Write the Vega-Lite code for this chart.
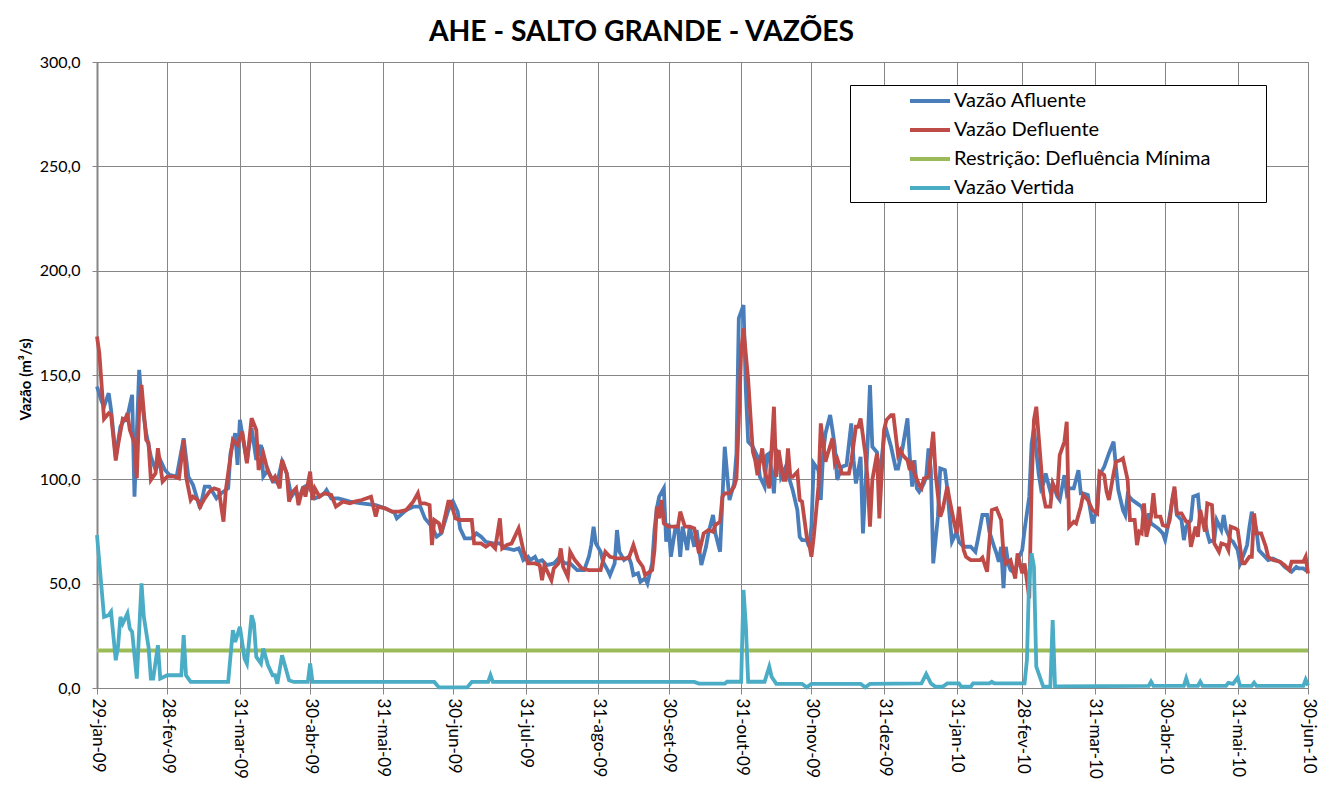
{
"$schema": "https://vega.github.io/schema/vega-lite/v6.json",
"width": 1211, "height": 626,
"autosize": {"type": "none"},
"padding": {"left": 97, "top": 62, "right": 26, "bottom": 108},
"background": "white",
"title": {"text": "AHE - SALTO GRANDE - VAZÕES", "font": "Lato", "fontSize": 28.3, "fontWeight": "bold", "color": "black", "anchor": "middle", "dx": -61, "dy": 34, "offset": 19, "baseline": "alphabetic"},
"datasets": {
"afl": [
{"d":"2009-01-29","v":144.5},{"d":"2009-01-31","v":137.3},{"d":"2009-02-01","v":134.9},{"d":"2009-02-03","v":141.3},{"d":"2009-02-04","v":133.3},{"d":"2009-02-06","v":110.9},{"d":"2009-02-08","v":125.3},{"d":"2009-02-10","v":129.3},{"d":"2009-02-11","v":130.1},{"d":"2009-02-13","v":140.5},{"d":"2009-02-14","v":91.7},{"d":"2009-02-16","v":152.5},{"d":"2009-02-17","v":138.1},{"d":"2009-02-19","v":122.1},{"d":"2009-02-21","v":110.9},{"d":"2009-02-23","v":104.5},{"d":"2009-02-25","v":109.3},{"d":"2009-02-27","v":104.5},
{"d":"2009-03-01","v":102.1},{"d":"2009-03-04","v":101.3},{"d":"2009-03-07","v":119.7},{"d":"2009-03-09","v":101.3},{"d":"2009-03-11","v":97.3},{"d":"2009-03-14","v":86.1},{"d":"2009-03-16","v":96.5},{"d":"2009-03-18","v":96.5},{"d":"2009-03-21","v":90.9},{"d":"2009-03-23","v":93.3},{"d":"2009-03-26","v":95.7},{"d":"2009-03-27","v":112.5},{"d":"2009-03-29","v":122.1},{"d":"2009-03-30","v":106.9},{"d":"2009-03-31","v":128.5},
{"d":"2009-04-02","v":114.9},{"d":"2009-04-03","v":108.5},{"d":"2009-04-05","v":124.5},{"d":"2009-04-07","v":109.3},{"d":"2009-04-09","v":116.5},{"d":"2009-04-10","v":101.3},{"d":"2009-04-12","v":104.5},{"d":"2009-04-14","v":98.9},{"d":"2009-04-16","v":98.9},{"d":"2009-04-18","v":108.5},{"d":"2009-04-20","v":102.9},{"d":"2009-04-22","v":91.7},{"d":"2009-04-24","v":94.9},{"d":"2009-04-25","v":90.1},{"d":"2009-04-27","v":96},{"d":"2009-04-29","v":97.3},
{"d":"2009-05-02","v":90.9},{"d":"2009-05-04","v":91.7},{"d":"2009-05-06","v":93.3},{"d":"2009-05-07","v":94.9},{"d":"2009-05-09","v":90.9},{"d":"2009-05-12","v":90.9},{"d":"2009-05-17","v":89.3},{"d":"2009-05-22","v":88.5},{"d":"2009-05-28","v":87.7},
{"d":"2009-06-01","v":86.1},{"d":"2009-06-05","v":84},{"d":"2009-06-06","v":81.3},{"d":"2009-06-10","v":85.3},{"d":"2009-06-13","v":86.9},{"d":"2009-06-16","v":86.9},{"d":"2009-06-18","v":81.3},{"d":"2009-06-21","v":77.3},{"d":"2009-06-23","v":72.5},{"d":"2009-06-25","v":74.1},{"d":"2009-06-28","v":85.3},{"d":"2009-06-30","v":89.3},
{"d":"2009-07-02","v":84.5},{"d":"2009-07-03","v":76.5},{"d":"2009-07-05","v":71.7},{"d":"2009-07-08","v":71.7},{"d":"2009-07-10","v":74.1},{"d":"2009-07-12","v":72.5},{"d":"2009-07-14","v":70.1},{"d":"2009-07-17","v":69.3},{"d":"2009-07-20","v":69.3},{"d":"2009-07-22","v":67},{"d":"2009-07-23","v":66.9},{"d":"2009-07-26","v":66.1},{"d":"2009-07-28","v":66.9},{"d":"2009-07-29","v":64.5},{"d":"2009-07-30","v":61.3},
{"d":"2009-08-01","v":62.9},{"d":"2009-08-02","v":61.3},{"d":"2009-08-04","v":62.9},{"d":"2009-08-05","v":60.5},{"d":"2009-08-07","v":61.3},{"d":"2009-08-09","v":58.9},{"d":"2009-08-12","v":59.7},{"d":"2009-08-14","v":62.1},{"d":"2009-08-17","v":59.7},{"d":"2009-08-19","v":59.7},{"d":"2009-08-22","v":56.5},{"d":"2009-08-25","v":56.5},{"d":"2009-08-27","v":62.9},{"d":"2009-08-28","v":68.5},{"d":"2009-08-29","v":77.3},{"d":"2009-08-30","v":69.3},
{"d":"2009-09-01","v":65.3},{"d":"2009-09-02","v":60.5},{"d":"2009-09-04","v":56.5},{"d":"2009-09-05","v":54.1},{"d":"2009-09-07","v":59.7},{"d":"2009-09-08","v":75.7},{"d":"2009-09-09","v":65.3},{"d":"2009-09-11","v":61.3},{"d":"2009-09-13","v":62.9},{"d":"2009-09-14","v":59.7},{"d":"2009-09-15","v":54.1},{"d":"2009-09-17","v":55},{"d":"2009-09-18","v":50.9},{"d":"2009-09-20","v":52.5},{"d":"2009-09-21","v":50.1},{"d":"2009-09-23","v":59.7},{"d":"2009-09-24","v":75.7},{"d":"2009-09-25","v":86.1},{"d":"2009-09-26","v":91.7},{"d":"2009-09-28","v":95.7},{"d":"2009-09-29","v":70.1},{"d":"2009-09-30","v":78.9},
{"d":"2009-10-01","v":62.9},{"d":"2009-10-03","v":77.3},{"d":"2009-10-04","v":77.3},{"d":"2009-10-05","v":62.9},{"d":"2009-10-06","v":77.3},{"d":"2009-10-08","v":66.1},{"d":"2009-10-09","v":77.3},{"d":"2009-10-11","v":67.7},{"d":"2009-10-12","v":75.7},{"d":"2009-10-14","v":58.9},{"d":"2009-10-16","v":67.7},{"d":"2009-10-17","v":74.1},{"d":"2009-10-19","v":82.9},{"d":"2009-10-20","v":74.1},{"d":"2009-10-22","v":65.3},{"d":"2009-10-24","v":115.6},{"d":"2009-10-25","v":102.8},{"d":"2009-10-26","v":90.1},{"d":"2009-10-28","v":98},{"d":"2009-10-29","v":112.4},{"d":"2009-10-30","v":177.1},
{"d":"2009-11-01","v":183.5},{"d":"2009-11-02","v":142.8},{"d":"2009-11-03","v":118},{"d":"2009-11-05","v":115.6},{"d":"2009-11-07","v":110.8},{"d":"2009-11-08","v":101.2},{"d":"2009-11-10","v":96.5},{"d":"2009-11-11","v":111.6},{"d":"2009-11-12","v":112.4},{"d":"2009-11-14","v":93.3},{"d":"2009-11-15","v":114},{"d":"2009-11-16","v":112.4},{"d":"2009-11-17","v":101.2},{"d":"2009-11-19","v":106},{"d":"2009-11-22","v":94.9},{"d":"2009-11-24","v":85.3},{"d":"2009-11-25","v":72.5},{"d":"2009-11-26","v":70.9},{"d":"2009-11-28","v":70.9},{"d":"2009-11-29","v":67.7},{"d":"2009-11-30","v":77.3},
{"d":"2009-12-01","v":107.6},{"d":"2009-12-03","v":104.4},{"d":"2009-12-04","v":90.1},{"d":"2009-12-05","v":112.4},{"d":"2009-12-06","v":122},{"d":"2009-12-08","v":130.8},{"d":"2009-12-09","v":123.6},{"d":"2009-12-10","v":115.6},{"d":"2009-12-11","v":99.7},{"d":"2009-12-13","v":106},{"d":"2009-12-15","v":106.8},{"d":"2009-12-17","v":126.8},{"d":"2009-12-18","v":109.2},{"d":"2009-12-19","v":98},{"d":"2009-12-21","v":110.8},{"d":"2009-12-22","v":74.1},{"d":"2009-12-24","v":117.2},{"d":"2009-12-25","v":145.2},{"d":"2009-12-26","v":115.6},{"d":"2009-12-28","v":113},{"d":"2009-12-29","v":99.7},{"d":"2009-12-31","v":120.4},
{"d":"2010-01-01","v":123.6},{"d":"2010-01-03","v":115.6},{"d":"2010-01-05","v":105.2},{"d":"2010-01-06","v":105.2},{"d":"2010-01-08","v":115.6},{"d":"2010-01-10","v":129.2},{"d":"2010-01-11","v":110.8},{"d":"2010-01-12","v":96.5},{"d":"2010-01-13","v":109.2},{"d":"2010-01-14","v":95.7},{"d":"2010-01-15","v":94.1},{"d":"2010-01-17","v":98},{"d":"2010-01-18","v":101.2},{"d":"2010-01-19","v":114.8},{"d":"2010-01-20","v":104.4},{"d":"2010-01-21","v":59.7},{"d":"2010-01-23","v":82.1},{"d":"2010-01-24","v":105.2},{"d":"2010-01-26","v":104.4},{"d":"2010-01-27","v":95.7},{"d":"2010-01-28","v":82.1},{"d":"2010-01-29","v":70.1},{"d":"2010-01-31","v":74.9},
{"d":"2010-02-01","v":70.1},{"d":"2010-02-03","v":67.7},{"d":"2010-02-06","v":67.7},{"d":"2010-02-08","v":65.3},{"d":"2010-02-09","v":70.9},{"d":"2010-02-11","v":82.9},{"d":"2010-02-13","v":82.9},{"d":"2010-02-14","v":74.9},{"d":"2010-02-16","v":67.7},{"d":"2010-02-17","v":64.5},{"d":"2010-02-18","v":60.5},{"d":"2010-02-19","v":67.7},{"d":"2010-02-20","v":47.8},{"d":"2010-02-21","v":67.7},{"d":"2010-02-22","v":59.7},{"d":"2010-02-23","v":56.5},{"d":"2010-02-25","v":54.9},{"d":"2010-02-26","v":61.3},{"d":"2010-02-28","v":66.1},
{"d":"2010-03-01","v":75.7},{"d":"2010-03-03","v":91.7},{"d":"2010-03-04","v":117.2},{"d":"2010-03-05","v":124.4},{"d":"2010-03-07","v":102.8},{"d":"2010-03-08","v":95.7},{"d":"2010-03-09","v":98},{"d":"2010-03-10","v":102.8},{"d":"2010-03-12","v":94.1},{"d":"2010-03-13","v":98},{"d":"2010-03-15","v":91.7},{"d":"2010-03-16","v":90.1},{"d":"2010-03-18","v":102},{"d":"2010-03-19","v":93.3},{"d":"2010-03-20","v":95.7},{"d":"2010-03-22","v":95.7},{"d":"2010-03-24","v":104.4},{"d":"2010-03-25","v":93.3},{"d":"2010-03-26","v":93.3},{"d":"2010-03-28","v":92.5},{"d":"2010-03-30","v":78.9},
{"d":"2010-04-01","v":86.1},{"d":"2010-04-02","v":102},{"d":"2010-04-04","v":106},{"d":"2010-04-06","v":112.4},{"d":"2010-04-08","v":118},{"d":"2010-04-09","v":106},{"d":"2010-04-10","v":94.9},{"d":"2010-04-12","v":85.3},{"d":"2010-04-13","v":82.9},{"d":"2010-04-14","v":92.5},{"d":"2010-04-16","v":90.1},{"d":"2010-04-18","v":88.5},{"d":"2010-04-20","v":86.9},{"d":"2010-04-22","v":78.9},{"d":"2010-04-23","v":83.7},{"d":"2010-04-24","v":78.9},{"d":"2010-04-26","v":77.3},{"d":"2010-04-27","v":76.5},{"d":"2010-04-29","v":74.1},{"d":"2010-04-30","v":70.9},
{"d":"2010-05-01","v":76.5},{"d":"2010-05-03","v":89.3},{"d":"2010-05-04","v":94.9},{"d":"2010-05-05","v":82.9},{"d":"2010-05-07","v":80.5},{"d":"2010-05-08","v":70.9},{"d":"2010-05-09","v":77.3},{"d":"2010-05-11","v":80.5},{"d":"2010-05-12","v":91.7},{"d":"2010-05-14","v":92.5},{"d":"2010-05-15","v":80.5},{"d":"2010-05-17","v":80.5},{"d":"2010-05-18","v":74.1},{"d":"2010-05-19","v":70.1},{"d":"2010-05-21","v":71},{"d":"2010-05-22","v":80.5},{"d":"2010-05-24","v":75.7},{"d":"2010-05-25","v":82.9},{"d":"2010-05-26","v":76},{"d":"2010-05-28","v":70.9},{"d":"2010-05-29","v":70.1},{"d":"2010-05-31","v":66.1},
{"d":"2010-06-01","v":59.7},{"d":"2010-06-03","v":65.3},{"d":"2010-06-04","v":68.5},{"d":"2010-06-05","v":77.3},{"d":"2010-06-06","v":84.5},{"d":"2010-06-08","v":75.7},{"d":"2010-06-09","v":66.1},{"d":"2010-06-11","v":63.7},{"d":"2010-06-13","v":61.3},{"d":"2010-06-15","v":62},{"d":"2010-06-18","v":60.5},{"d":"2010-06-20","v":58.1},{"d":"2010-06-21","v":57.3},{"d":"2010-06-23","v":55.7},{"d":"2010-06-25","v":58},{"d":"2010-06-26","v":57.3},{"d":"2010-06-28","v":57.3},{"d":"2010-06-29","v":56.5},{"d":"2010-06-30","v":55.7}
],
"def": [
{"d":"2009-01-29","v":168.5},{"d":"2009-01-30","v":160.5},{"d":"2009-02-01","v":129},{"d":"2009-02-03","v":131.7},{"d":"2009-02-04","v":131},{"d":"2009-02-06","v":109},{"d":"2009-02-07","v":116.5},{"d":"2009-02-09","v":129},{"d":"2009-02-10","v":128.5},{"d":"2009-02-11","v":131.7},{"d":"2009-02-12","v":123.7},{"d":"2009-02-14","v":117.3},{"d":"2009-02-15","v":100.5},{"d":"2009-02-16","v":133.3},{"d":"2009-02-17","v":145.3},{"d":"2009-02-19","v":118.9},{"d":"2009-02-20","v":117.3},{"d":"2009-02-21","v":99.7},{"d":"2009-02-23","v":102.9},{"d":"2009-02-24","v":114.9},{"d":"2009-02-26","v":98.9},{"d":"2009-02-28","v":101.3},
{"d":"2009-03-03","v":101.3},{"d":"2009-03-05","v":100.5},{"d":"2009-03-07","v":118.9},{"d":"2009-03-08","v":101.3},{"d":"2009-03-10","v":90.1},{"d":"2009-03-11","v":91.7},{"d":"2009-03-13","v":90.1},{"d":"2009-03-14","v":86.9},{"d":"2009-03-16","v":90.9},{"d":"2009-03-18","v":94.1},{"d":"2009-03-20","v":95.7},{"d":"2009-03-22","v":94.9},{"d":"2009-03-24","v":79.7},{"d":"2009-03-25","v":94.9},{"d":"2009-03-27","v":110.9},{"d":"2009-03-28","v":118.9},{"d":"2009-03-30","v":116.5},
{"d":"2009-04-01","v":122.9},{"d":"2009-04-03","v":107.7},{"d":"2009-04-05","v":129.3},{"d":"2009-04-07","v":123.7},{"d":"2009-04-08","v":104.5},{"d":"2009-04-10","v":112.5},{"d":"2009-04-12","v":103.7},{"d":"2009-04-14","v":99.7},{"d":"2009-04-15","v":101.3},{"d":"2009-04-17","v":95.7},{"d":"2009-04-18","v":109.3},{"d":"2009-04-20","v":102.9},{"d":"2009-04-21","v":89.3},{"d":"2009-04-22","v":93.3},{"d":"2009-04-24","v":95.7},{"d":"2009-04-25","v":87.7},{"d":"2009-04-27","v":96.5},{"d":"2009-04-28","v":91.7},{"d":"2009-04-30","v":103.7},
{"d":"2009-05-01","v":90.1},{"d":"2009-05-02","v":95.7},{"d":"2009-05-04","v":91.7},{"d":"2009-05-06","v":93.3},{"d":"2009-05-09","v":92.5},{"d":"2009-05-11","v":86.9},{"d":"2009-05-14","v":89.3},{"d":"2009-05-17","v":88.5},{"d":"2009-05-19","v":89.3},{"d":"2009-05-22","v":90.1},{"d":"2009-05-26","v":91.7},{"d":"2009-05-28","v":82.1},{"d":"2009-05-29","v":86.9},
{"d":"2009-06-01","v":86.1},{"d":"2009-06-04","v":84.5},{"d":"2009-06-07","v":84.5},{"d":"2009-06-10","v":85.3},{"d":"2009-06-13","v":89.3},{"d":"2009-06-15","v":93.3},{"d":"2009-06-16","v":88.5},{"d":"2009-06-18","v":88.5},{"d":"2009-06-20","v":87.7},{"d":"2009-06-21","v":68.5},{"d":"2009-06-22","v":80.5},{"d":"2009-06-24","v":78.9},{"d":"2009-06-25","v":74.1},{"d":"2009-06-28","v":89.3},{"d":"2009-06-29","v":89.3},
{"d":"2009-07-01","v":81.3},{"d":"2009-07-03","v":80.5},{"d":"2009-07-06","v":80.5},{"d":"2009-07-08","v":80.5},{"d":"2009-07-09","v":69.3},{"d":"2009-07-12","v":69.3},{"d":"2009-07-14","v":67.7},{"d":"2009-07-16","v":69.3},{"d":"2009-07-18","v":66.9},{"d":"2009-07-20","v":81.3},{"d":"2009-07-21","v":66.9},{"d":"2009-07-23","v":68.5},{"d":"2009-07-25","v":69.3},{"d":"2009-07-27","v":74.1},{"d":"2009-07-28","v":76.5},{"d":"2009-07-30","v":66.1},
{"d":"2009-08-01","v":59.7},{"d":"2009-08-04","v":59.7},{"d":"2009-08-06","v":58.9},{"d":"2009-08-07","v":51.7},{"d":"2009-08-08","v":58.9},{"d":"2009-08-09","v":56.5},{"d":"2009-08-11","v":51.7},{"d":"2009-08-12","v":57.3},{"d":"2009-08-14","v":59.7},{"d":"2009-08-15","v":66.9},{"d":"2009-08-16","v":58.1},{"d":"2009-08-18","v":53.3},{"d":"2009-08-19","v":65.3},{"d":"2009-08-21","v":61.3},{"d":"2009-08-24","v":57.3},{"d":"2009-08-27","v":56.5},{"d":"2009-08-31","v":56.5},
{"d":"2009-09-01","v":56.5},{"d":"2009-09-03","v":65.3},{"d":"2009-09-05","v":62.9},{"d":"2009-09-08","v":62.1},{"d":"2009-09-11","v":62.1},{"d":"2009-09-13","v":62.1},{"d":"2009-09-15","v":68.5},{"d":"2009-09-17","v":61.3},{"d":"2009-09-19","v":58.1},{"d":"2009-09-20","v":54.1},{"d":"2009-09-23","v":56.5},{"d":"2009-09-24","v":66.1},{"d":"2009-09-25","v":86.9},{"d":"2009-09-26","v":81.3},{"d":"2009-09-27","v":90.1},{"d":"2009-09-28","v":78.9},{"d":"2009-09-30","v":77.3},
{"d":"2009-10-02","v":77.3},{"d":"2009-10-04","v":77.3},{"d":"2009-10-05","v":84.5},{"d":"2009-10-07","v":77.3},{"d":"2009-10-09","v":77.3},{"d":"2009-10-11","v":76.5},{"d":"2009-10-13","v":64.5},{"d":"2009-10-15","v":74.1},{"d":"2009-10-17","v":75.7},{"d":"2009-10-19","v":74.9},{"d":"2009-10-20","v":78.1},{"d":"2009-10-22","v":79.7},{"d":"2009-10-23","v":91.7},{"d":"2009-10-24","v":93.3},{"d":"2009-10-26","v":93.3},{"d":"2009-10-28","v":96.5},{"d":"2009-10-29","v":100.4},{"d":"2009-10-30","v":128.4},{"d":"2009-10-31","v":161.1},
{"d":"2009-11-01","v":172.3},{"d":"2009-11-03","v":147.6},{"d":"2009-11-04","v":130},{"d":"2009-11-05","v":113.2},{"d":"2009-11-06","v":109.2},{"d":"2009-11-07","v":102},{"d":"2009-11-09","v":114.8},{"d":"2009-11-10","v":104.4},{"d":"2009-11-12","v":95.7},{"d":"2009-11-13","v":114.8},{"d":"2009-11-14","v":134.8},{"d":"2009-11-15","v":101.2},{"d":"2009-11-16","v":114},{"d":"2009-11-18","v":99.7},{"d":"2009-11-19","v":99.7},{"d":"2009-11-20","v":114.8},{"d":"2009-11-21","v":101.2},{"d":"2009-11-22","v":101.2},{"d":"2009-11-24","v":103.6},{"d":"2009-11-25","v":90.1},{"d":"2009-11-26","v":89.3},{"d":"2009-11-28","v":72.5},{"d":"2009-11-29","v":69.3},{"d":"2009-11-30","v":62.9},
{"d":"2009-12-01","v":72.5},{"d":"2009-12-03","v":96.5},{"d":"2009-12-04","v":126.8},{"d":"2009-12-06","v":108.4},{"d":"2009-12-07","v":112.4},{"d":"2009-12-09","v":119.6},{"d":"2009-12-10","v":107.6},{"d":"2009-12-11","v":110},{"d":"2009-12-13","v":102.8},{"d":"2009-12-14","v":102.8},{"d":"2009-12-16","v":102.8},{"d":"2009-12-17","v":108.4},{"d":"2009-12-19","v":125.2},{"d":"2009-12-20","v":125.2},{"d":"2009-12-21","v":129.2},{"d":"2009-12-23","v":112.4},{"d":"2009-12-24","v":99.7},{"d":"2009-12-25","v":77.3},{"d":"2009-12-26","v":99.7},{"d":"2009-12-28","v":112.4},{"d":"2009-12-29","v":81.3},{"d":"2009-12-31","v":123.6},
{"d":"2010-01-01","v":128.4},{"d":"2010-01-03","v":130.8},{"d":"2010-01-04","v":130.8},{"d":"2010-01-06","v":111.6},{"d":"2010-01-07","v":114},{"d":"2010-01-08","v":111.6},{"d":"2010-01-10","v":109.2},{"d":"2010-01-11","v":104.4},{"d":"2010-01-12","v":108.8},{"d":"2010-01-13","v":102.8},{"d":"2010-01-15","v":97.3},{"d":"2010-01-16","v":95.7},{"d":"2010-01-17","v":100.4},{"d":"2010-01-19","v":101.2},{"d":"2010-01-20","v":112.4},{"d":"2010-01-21","v":122.8},{"d":"2010-01-22","v":102.8},{"d":"2010-01-24","v":82.1},{"d":"2010-01-25","v":85.3},{"d":"2010-01-27","v":96.5},{"d":"2010-01-28","v":90.1},{"d":"2010-01-30","v":78.9},{"d":"2010-01-31","v":74.1},
{"d":"2010-02-01","v":86.9},{"d":"2010-02-03","v":66.1},{"d":"2010-02-04","v":62.9},{"d":"2010-02-06","v":61.3},{"d":"2010-02-08","v":61.3},{"d":"2010-02-10","v":61.3},{"d":"2010-02-11","v":62.5},{"d":"2010-02-13","v":55.7},{"d":"2010-02-15","v":85.3},{"d":"2010-02-17","v":86.1},{"d":"2010-02-19","v":80.5},{"d":"2010-02-20","v":64.5},{"d":"2010-02-21","v":59.7},{"d":"2010-02-23","v":61.3},{"d":"2010-02-25","v":52.5},{"d":"2010-02-26","v":64.5},{"d":"2010-02-28","v":54.9},
{"d":"2010-03-01","v":59.7},{"d":"2010-03-03","v":43},{"d":"2010-03-04","v":96.5},{"d":"2010-03-05","v":128.4},{"d":"2010-03-06","v":134.8},{"d":"2010-03-08","v":106.8},{"d":"2010-03-09","v":92.5},{"d":"2010-03-10","v":86.9},{"d":"2010-03-12","v":86.9},{"d":"2010-03-13","v":98},{"d":"2010-03-15","v":93.3},{"d":"2010-03-16","v":111.6},{"d":"2010-03-18","v":118},{"d":"2010-03-19","v":127.6},{"d":"2010-03-20","v":77.3},{"d":"2010-03-22","v":79.7},{"d":"2010-03-23","v":78.9},{"d":"2010-03-25","v":86.9},{"d":"2010-03-26","v":92.5},{"d":"2010-03-28","v":90.1},{"d":"2010-03-30","v":85.3},
{"d":"2010-04-01","v":83.7},{"d":"2010-04-02","v":103.6},{"d":"2010-04-04","v":102},{"d":"2010-04-05","v":94.1},{"d":"2010-04-06","v":90.1},{"d":"2010-04-08","v":102.8},{"d":"2010-04-09","v":108.4},{"d":"2010-04-11","v":109.2},{"d":"2010-04-12","v":110},{"d":"2010-04-14","v":99.7},{"d":"2010-04-15","v":80.5},{"d":"2010-04-17","v":80.5},{"d":"2010-04-18","v":68.5},{"d":"2010-04-19","v":74.9},{"d":"2010-04-20","v":74.1},{"d":"2010-04-21","v":88.5},{"d":"2010-04-22","v":72.5},{"d":"2010-04-24","v":82.1},{"d":"2010-04-25","v":93.3},{"d":"2010-04-26","v":82.1},{"d":"2010-04-28","v":82.1},{"d":"2010-04-29","v":78.1},
{"d":"2010-05-01","v":77.3},{"d":"2010-05-02","v":80.5},{"d":"2010-05-03","v":90.1},{"d":"2010-05-04","v":96.5},{"d":"2010-05-05","v":83.7},{"d":"2010-05-07","v":83.7},{"d":"2010-05-09","v":79.7},{"d":"2010-05-10","v":79.7},{"d":"2010-05-11","v":67.7},{"d":"2010-05-13","v":77.3},{"d":"2010-05-14","v":72.5},{"d":"2010-05-15","v":85.3},{"d":"2010-05-17","v":74.9},{"d":"2010-05-18","v":88.5},{"d":"2010-05-20","v":87.7},{"d":"2010-05-21","v":69.3},{"d":"2010-05-23","v":65.3},{"d":"2010-05-24","v":69.3},{"d":"2010-05-26","v":68.5},{"d":"2010-05-27","v":66.1},{"d":"2010-05-28","v":77.3},{"d":"2010-05-30","v":76.5},{"d":"2010-05-31","v":75.7},
{"d":"2010-06-02","v":59.7},{"d":"2010-06-03","v":59.7},{"d":"2010-06-05","v":62.9},{"d":"2010-06-06","v":62.9},{"d":"2010-06-07","v":83.7},{"d":"2010-06-08","v":74.1},{"d":"2010-06-10","v":74.1},{"d":"2010-06-12","v":67.7},{"d":"2010-06-13","v":62.9},{"d":"2010-06-15","v":61.3},{"d":"2010-06-18","v":60.5},{"d":"2010-06-20","v":58.9},{"d":"2010-06-22","v":56.5},{"d":"2010-06-23","v":60.5},{"d":"2010-06-25","v":60.5},{"d":"2010-06-28","v":60.5},{"d":"2010-06-29","v":62.9},{"d":"2010-06-30","v":54.9}
],
"res": [
{"d":"2009-01-29","v":18},{"d":"2010-06-30","v":18}
],
"ver": [
{"d":"2009-01-29","v":73.3},{"d":"2009-02-01","v":34.1},{"d":"2009-02-03","v":34.9},{"d":"2009-02-04","v":36.5},{"d":"2009-02-06","v":13.3},{"d":"2009-02-07","v":20},{"d":"2009-02-08","v":34.1},{"d":"2009-02-09","v":30.9},{"d":"2009-02-11","v":35.7},{"d":"2009-02-12","v":28.5},{"d":"2009-02-13","v":26.9},{"d":"2009-02-15","v":4.5},{"d":"2009-02-17","v":50.1},{"d":"2009-02-18","v":34.1},{"d":"2009-02-20","v":19.7},{"d":"2009-02-21","v":4.5},{"d":"2009-02-22","v":4.5},{"d":"2009-02-24","v":20.5},{"d":"2009-02-25","v":4.5},{"d":"2009-02-28","v":6.1},
{"d":"2009-03-06","v":6.1},{"d":"2009-03-07","v":25.3},{"d":"2009-03-08","v":6.1},{"d":"2009-03-10","v":2.9},{"d":"2009-03-26","v":2.9},{"d":"2009-03-28","v":27.7},{"d":"2009-03-29","v":22.1},{"d":"2009-03-31","v":29.3},{"d":"2009-04-02","v":14.1},{"d":"2009-04-03","v":11.7},{"d":"2009-04-05","v":34.9},{"d":"2009-04-06","v":30.9},{"d":"2009-04-07","v":14.9},{"d":"2009-04-09","v":11.7},{"d":"2009-04-10","v":18.9},{"d":"2009-04-12","v":10.9},{"d":"2009-04-14","v":6.1},{"d":"2009-04-15","v":6.1},{"d":"2009-04-16","v":2.1},{"d":"2009-04-18","v":15.7},{"d":"2009-04-19","v":11.7},{"d":"2009-04-21","v":3.7},{"d":"2009-04-23","v":2.9},{"d":"2009-04-29","v":2.9},{"d":"2009-04-30","v":11.7},{"d":"2009-05-01","v":2.9},
{"d":"2009-06-22","v":2.9},{"d":"2009-06-24","v":0.3},{"d":"2009-07-06","v":0.3},{"d":"2009-07-08","v":2.9},{"d":"2009-07-15","v":2.9},{"d":"2009-07-16","v":6.1},{"d":"2009-07-17","v":2.9},{"d":"2009-10-11","v":2.9},{"d":"2009-10-13","v":2.1},{"d":"2009-10-24","v":2.1},{"d":"2009-10-25","v":3},{"d":"2009-10-31","v":3},{"d":"2009-11-01","v":47},{"d":"2009-11-02","v":30},{"d":"2009-11-03","v":3},{"d":"2009-11-10","v":3},{"d":"2009-11-12","v":10.2},{"d":"2009-11-13","v":5.4},{"d":"2009-11-15","v":2},{"d":"2009-11-26","v":2},{"d":"2009-11-28","v":0.3},{"d":"2009-11-30","v":2},{"d":"2009-12-21","v":2},{"d":"2009-12-23","v":0.3},{"d":"2009-12-25","v":2},
{"d":"2010-01-16","v":2.2},{"d":"2010-01-18","v":6.7},{"d":"2010-01-20","v":2.2},{"d":"2010-01-22","v":0.6},{"d":"2010-01-25","v":0.6},{"d":"2010-01-27","v":2.2},{"d":"2010-02-01","v":2.2},{"d":"2010-02-02","v":0.6},{"d":"2010-02-06","v":0.6},{"d":"2010-02-07","v":2.2},{"d":"2010-02-14","v":2.2},{"d":"2010-02-15","v":3},{"d":"2010-02-16","v":2.2},{"d":"2010-03-01","v":2.2},{"d":"2010-03-02","v":13.4},{"d":"2010-03-03","v":54.9},{"d":"2010-03-04","v":64.5},{"d":"2010-03-05","v":58.1},{"d":"2010-03-06","v":10.2},{"d":"2010-03-08","v":3.8},{"d":"2010-03-09","v":0.6},{"d":"2010-03-12","v":0.6},{"d":"2010-03-13","v":32.6},{"d":"2010-03-14","v":0.8},
{"d":"2010-04-23","v":1},{"d":"2010-04-24","v":3},{"d":"2010-04-25","v":1},{"d":"2010-05-08","v":1},{"d":"2010-05-09","v":4.6},{"d":"2010-05-10","v":1},{"d":"2010-05-14","v":1},{"d":"2010-05-15","v":3},{"d":"2010-05-16","v":1},{"d":"2010-05-26","v":1},{"d":"2010-05-27","v":2.5},{"d":"2010-05-29","v":2},{"d":"2010-05-31","v":5},{"d":"2010-06-01","v":1},{"d":"2010-06-06","v":1},{"d":"2010-06-07","v":2.5},{"d":"2010-06-08","v":1},{"d":"2010-06-28","v":1},{"d":"2010-06-29","v":4},{"d":"2010-06-30","v":1.2}
]
},
"encoding": {
"x": {"field": "d", "type": "temporal",
 "scale": {"type": "utc", "domain": [{"year":2009,"month":1,"date":29,"utc":true},{"year":2010,"month":6,"date":30,"utc":true}]},
 "axis": {"title": null, "grid": true,
  "values": [{"year":2009,"month":1,"date":29,"utc":true},{"year":2009,"month":2,"date":28,"utc":true},{"year":2009,"month":3,"date":31,"utc":true},{"year":2009,"month":4,"date":30,"utc":true},{"year":2009,"month":5,"date":31,"utc":true},{"year":2009,"month":6,"date":30,"utc":true},{"year":2009,"month":7,"date":31,"utc":true},{"year":2009,"month":8,"date":31,"utc":true},{"year":2009,"month":9,"date":30,"utc":true},{"year":2009,"month":10,"date":31,"utc":true},{"year":2009,"month":11,"date":30,"utc":true},{"year":2009,"month":12,"date":31,"utc":true},{"year":2010,"month":1,"date":31,"utc":true},{"year":2010,"month":2,"date":28,"utc":true},{"year":2010,"month":3,"date":31,"utc":true},{"year":2010,"month":4,"date":30,"utc":true},{"year":2010,"month":5,"date":31,"utc":true},{"year":2010,"month":6,"date":30,"utc":true}],
  "labelExpr": "utcFormat(datum.value,'%d') + '-' + ['jan','fev','mar','abr','mai','jun','jul','ago','set','out','nov','dez'][utcmonth(datum.value)] + '-' + utcFormat(datum.value,'%y')",
  "labelAngle": 90, "labelAlign": "left", "labelBaseline": "middle", "labelPadding": 4,
  "labelFont": "Lato", "labelFontSize": 17, "labelColor": "black",
  "labelOverlap": false, "labelBound": false, "labelFlush": false,
  "tickSize": 6, "tickColor": "#868686", "domainColor": "#868686", "gridColor": "#868686"}},
"y": {"field": "v", "type": "quantitative",
 "scale": {"domain": [0, 300], "nice": false, "zero": true},
 "axis": {"title": "Vazão (m³/s)", "grid": true, "values": [0,50,100,150,200,250,300],
  "labelExpr": "replace(format(datum.value,'.1f'),'.',',')",
  "labelFont": "Lato", "labelFontSize": 16, "labelColor": "black", "labelPadding": 12,
  "tickSize": 5, "tickColor": "#868686", "domainColor": "#868686", "domainWidth": 2, "gridColor": "#868686",
  "titleFont": "Lato", "titleFontSize": 15, "titleFontWeight": "bold", "titleColor": "black", "titleLimit": 300,
  "titleX": -72, "titleY": 317, "titleAngle": -90, "titleAlign": "center", "titleBaseline": "middle"}}
},
"layer": [
{"data": {"name": "afl"}, "mark": {"type": "line", "strokeWidth": 3.8},
 "encoding": {"color": {"datum": "Vazão Afluente", "type": "nominal",
  "scale": {"domain": ["Vazão Afluente", "Vazão Defluente", "Restrição: Defluência Mínima", "Vazão Vertida"], "range": ["#4A7EBB", "#BE4B48", "#9BBB59", "#4BACC6"]},
  "legend": {"title": null, "orient": "none", "legendX": 753, "legendY": 23, "direction": "vertical",
   "labelExpr": "datum.label + '\u00a0\u00a0\u00a0\u00a0\u00a0\u00a0\u00a0\u00a0\u00a0\u00a0\u200b'"}}}},
{"data": {"name": "def"}, "mark": {"type": "line", "strokeWidth": 3.8},
 "encoding": {"color": {"datum": "Vazão Defluente", "type": "nominal"}}},
{"data": {"name": "res"}, "mark": {"type": "line", "strokeWidth": 4},
 "encoding": {"color": {"datum": "Restrição: Defluência Mínima", "type": "nominal"}}},
{"data": {"name": "ver"}, "mark": {"type": "line", "strokeWidth": 3.8},
 "encoding": {"color": {"datum": "Vazão Vertida", "type": "nominal"}}}
],
"config": {
 "view": {"stroke": "#868686"},
 "axisY": {"titleFontSize": 15, "titleFont": "Lato", "titleFontWeight": "bold"},
 "legend": {"symbolType": "M-2,0H2", "symbolSize": 400, "symbolStrokeWidth": 4, "symbolFillColor": "transparent",
  "labelFont": "Lato", "labelFontSize": 20, "labelColor": "black", "labelOffset": 12, "symbolOffset": 64,
  "rowPadding": 7, "padding": 4, "strokeColor": "black", "fillColor": "white", "cornerRadius": 0, "labelLimit": 0}
}
}
